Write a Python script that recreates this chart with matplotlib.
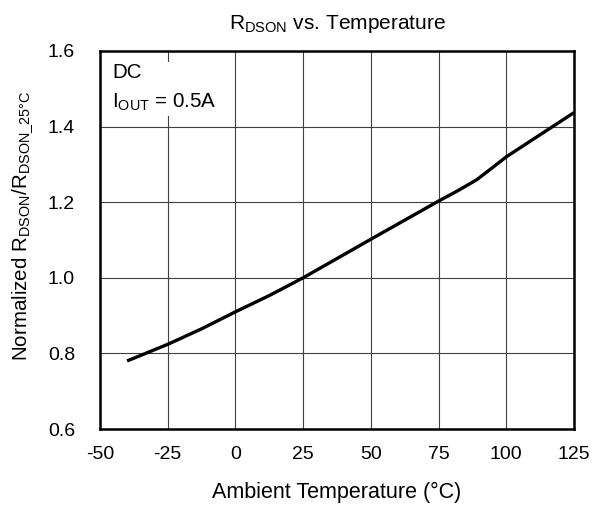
import matplotlib
matplotlib.use("Agg")
import matplotlib.pyplot as plt

plt.rcParams['font.family'] = ['Liberation Sans', 'DejaVu Sans']
plt.rcParams['mathtext.default'] = 'regular'

temp = [-40, -25, -12.5, 0, 12.5, 25, 50, 75, 82, 89, 95, 100, 125]
rdson = [0.780, 0.824, 0.865, 0.910, 0.953, 1.000, 1.102, 1.203, 1.230, 1.259, 1.292, 1.320, 1.437]

xticks = [-50, -25, 0, 25, 50, 75, 100, 125]
yticks = [0.6, 0.8, 1.0, 1.2, 1.4, 1.6]

fig = plt.figure(figsize=(5.95, 5.07), dpi=100)
ax = fig.add_axes([100 / 595, 1 - 429 / 507, 474 / 595, 378 / 507])

ax.plot(temp, rdson, c="k", linewidth=2.4, solid_capstyle="butt", zorder=3)

ax.set_xlim(-50, 125)
ax.set_ylim(0.6, 1.6)
ax.set_xticks(xticks)
ax.set_yticks(yticks)
ax.set_xticklabels([str(t) for t in xticks])
ax.set_yticklabels([f"{t:.1f}" for t in yticks])
ax.tick_params(length=0, labelsize=14)
ax.tick_params(axis="x", pad=12)
ax.tick_params(axis="y", pad=18)
ax.grid(True, color="#404040", linewidth=0.8)
ax.set_axisbelow(True)
for s in ax.spines.values():
    s.set_linewidth(1.8)

ax.set_title(r"$R_{DSON}$ vs. Temperature", fontsize=15, pad=15.5)
ax.set_xlabel("Ambient Temperature (°C)", fontsize=15.5, labelpad=14)
ax.set_ylabel(r"Normalized $R_{DSON}/R_{DSON\_25°C}$", fontsize=14.8)
ax.yaxis.set_label_coords(-0.138, 0.537)

ax.text(-45.5, 1.567, "DC\n" + r"$I_{OUT}$ = 0.5A", fontsize=14.8, va="top", ha="left",
        linespacing=1.6, zorder=4,
        bbox=dict(facecolor="white", edgecolor="none", pad=2))

fig.savefig("out.png", dpi=100)
